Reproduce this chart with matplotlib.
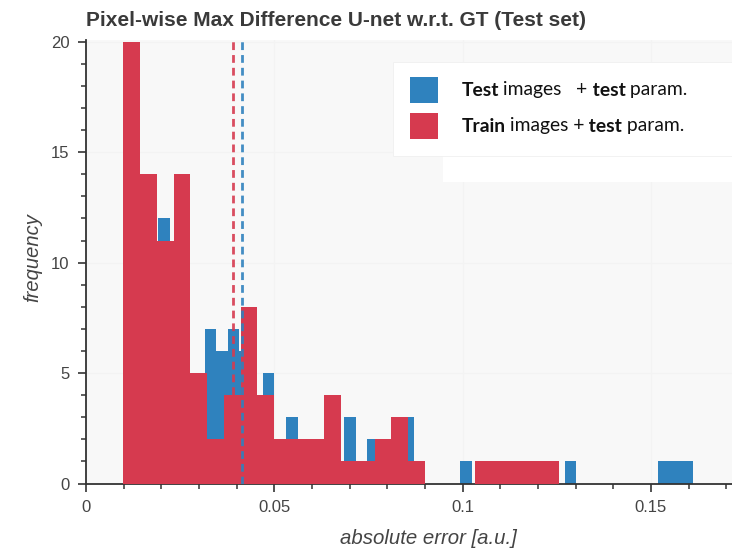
import numpy as np
import matplotlib
matplotlib.use("Agg")
import matplotlib.pyplot as plt
from matplotlib.patches import Rectangle
from matplotlib.ticker import MultipleLocator, FixedLocator, FixedFormatter

# ---- data -------------------------------------------------------------
title = "Pixel-wise Max Difference U-net w.r.t. GT (Test set)"
x_label = "absolute error [a.u.]"
y_label = "frequency"

# Test images + test param. : 49 equal bins over its own range
blue_range = (0.0099, 0.1611)
blue_counts = [10, 9, 8, 12, 7, 4, 3, 7, 6, 7,
               6, 3, 5, 2, 3, 1, 2, 1, 1, 3,
               1, 2, 1, 2, 3, 1, 0, 0, 0, 1,
               0, 0, 1, 0, 1, 0, 0, 0, 1, 0,
               0, 0, 0, 0, 0, 0, 1, 1, 1]
blue_mean = 0.0415

# Train images + test param. : 26 equal bins over its own range
red_range = (0.0099, 0.1256)
red_counts = [20, 14, 11, 14, 5, 2, 4, 8, 4, 2,
              2, 2, 4, 1, 1, 2, 3, 1, 0, 0,
              0, 1, 1, 1, 1, 1]
red_mean = 0.0391

x_ticks = [0, 0.05, 0.1, 0.15]
x_tick_labels = ["0", "0.05", "0.1", "0.15"]
y_ticks = [0, 5, 10, 15, 20]
y_tick_labels = ["0", "5", "10", "15", "20"]

legend_rows = [
    [("Test", "bold"), (" images   +", "normal"), (" test", "bold"), (" param.", "normal")],
    [("Train", "bold"), (" images +", "normal"), (" test", "bold"), (" param.", "normal")],
]

BLUE = "#2f82be"
RED = "#d63a4f"

# ---- figure -----------------------------------------------------------
W, H = 732, 549
fig = plt.figure(figsize=(W / 100, H / 100), dpi=100)
fig.patch.set_facecolor("white")


def fx(px):
    return px / W


def fy(py):
    return 1 - py / H


ax_left, ax_top, ax_bottom = 86.0, 39.5, 483.5
ax = fig.add_axes([fx(ax_left), fy(ax_bottom), 1 - fx(ax_left), (ax_bottom - ax_top) / H])
ax.set_facecolor("#f8f8f8")

blue_edges = np.linspace(blue_range[0], blue_range[1], len(blue_counts) + 1)
red_edges = np.linspace(red_range[0], red_range[1], len(red_counts) + 1)

ax.stairs(blue_counts, blue_edges, fill=True, color=BLUE, linewidth=0, zorder=2)
ax.stairs(red_counts, red_edges, fill=True, color=RED, linewidth=0, zorder=3)

ax.axvline(red_mean, color=RED, alpha=0.9, linestyle=(0, (2.8, 1.8)), linewidth=2.0, zorder=4)
ax.axvline(blue_mean, color=BLUE, alpha=0.9, linestyle=(0, (2.8, 1.8)), linewidth=2.0, zorder=4)

ax.set_xlim(0, (W - ax_left) / 3766)
ax.set_ylim(0, 20.1)

ax.xaxis.set_major_locator(FixedLocator(x_ticks))
ax.xaxis.set_major_formatter(FixedFormatter(x_tick_labels))
ax.xaxis.set_minor_locator(MultipleLocator(0.01))
ax.yaxis.set_major_locator(FixedLocator(y_ticks))
ax.yaxis.set_major_formatter(FixedFormatter(y_tick_labels))
ax.yaxis.set_minor_locator(MultipleLocator(1))

ax.grid(True, which="major", color="#f3f3f3", linewidth=1.0, zorder=0)
ax.set_axisbelow(True)

for side in ("top", "right"):
    ax.spines[side].set_visible(False)
for side in ("left", "bottom"):
    ax.spines[side].set_color("#333333")
    ax.spines[side].set_linewidth(1.3)

ax.tick_params(which="major", direction="out", length=6, width=1.2, color="#333333",
               labelcolor="#444444", labelsize=12, pad=6)
ax.tick_params(which="minor", direction="out", length=3.5, width=1.1, color="#333333")
for lab in ax.get_xticklabels() + ax.get_yticklabels():
    lab.set_fontfamily("Liberation Sans")

# title and axis labels
fig.text(fx(86), fy(20), title, fontsize=15.0, fontweight="bold",
         family="Liberation Sans", color="#3a3a3a", va="center", ha="left")
fig.text(fx(428), fy(538), x_label, fontsize=14.7, style="italic",
         family="Liberation Sans", color="#444444", va="center", ha="center")
fig.text(fx(33), fy(258), y_label, fontsize=14.5, style="italic", rotation=90,
         family="Liberation Sans", color="#444444", va="center", ha="center")

# legend panel
fig.add_artist(Rectangle((fx(443), fy(182)), 1 - fx(443), (182 - 68) / H,
                         transform=fig.transFigure, facecolor="white",
                         edgecolor="none", zorder=5))
fig.add_artist(Rectangle((fx(393), fy(156)), 1 - fx(393), (156 - 62) / H,
                         transform=fig.transFigure, facecolor="white",
                         edgecolor="#f0f0f0", linewidth=0.6, zorder=6))

swatch_colors = [BLUE, RED]
row_centers = [90, 126]
renderer = fig.canvas.get_renderer()
for color, yc, parts in zip(swatch_colors, row_centers, legend_rows):
    fig.add_artist(Rectangle((fx(410), fy(yc + 13)), 28 / W, 26 / H,
                             transform=fig.transFigure, facecolor=color,
                             edgecolor="none", zorder=7))
    x = fx(462)
    for i, (text, weight) in enumerate(parts):
        t = fig.text(x, fy(yc), text, fontsize=13.9, fontweight=weight,
                     family="Lato", color="#111111", va="center", ha="left", zorder=8)
        trim = 1.2 if i == 0 else 0.0
        x += (t.get_window_extent(renderer).width - trim) / W

fig.savefig("out.png", dpi=100)
